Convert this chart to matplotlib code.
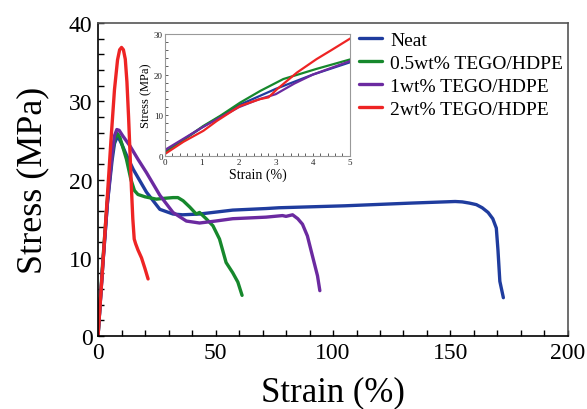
import numpy as np
import matplotlib.pyplot as plt
from matplotlib.ticker import MultipleLocator

plt.rcParams['font.family'] = ['Liberation Serif', 'DejaVu Serif']

# tensile curves, strain (%) vs stress (MPa)
neat_x = [0, 2, 4, 6, 7.0, 7.9, 9, 10, 12, 15, 20.6, 26.3, 31.9, 36, 43.2, 57.3, 71.5, 77, 105, 133.5, 152,
          155, 158, 161, 163.5, 166, 168, 169.5, 170.2, 171, 172.5]
neat_y = [0, 9, 17, 22.5, 24.6, 25.3, 25.2, 24.6, 23.2, 21.3, 18.4, 16.2, 15.6, 15.5, 15.6, 16.1, 16.3, 16.4,
          16.65, 17.0, 17.2, 17.15, 17.0, 16.8, 16.4, 15.8, 15.0, 13.8, 11.0, 7.0, 4.9]

tego05_x = [0, 2, 4, 6, 7.2, 8.2, 9.3, 10.5, 12.1, 14, 15.5, 17, 20, 24.8, 28, 31.9, 34, 36.2, 39, 41.8, 43.2,
            46, 48.9, 51.7, 54.5, 57.3, 59.5, 61.3]
tego05_y = [0, 9.5, 17.5, 23.3, 25.3, 25.9, 25.4, 24.2, 22.6, 20.0, 18.6, 18.1, 17.8, 17.5, 17.6, 17.7, 17.7,
            17.3, 16.5, 15.6, 15.8, 15.0, 14.1, 12.4, 9.4, 8.1, 6.9, 5.2]

tego1_x = [0, 2, 4, 6, 7.0, 8.0, 9, 10.5, 13.6, 17, 20.6, 26.3, 31.9, 37.6, 43.2, 50, 57.3, 71.5, 78.5, 80,
           82.8, 85, 87, 89.1, 91.2, 93.4, 94.4]
tego1_y = [0, 9, 17, 23.3, 25.6, 26.4, 26.3, 25.6, 24.3, 22.6, 20.9, 18, 15.8, 14.7, 14.45, 14.7, 15.0, 15.2,
           15.4, 15.3, 15.5, 15.0, 14.3, 12.8, 10.3, 7.7, 5.8]

tego2_x = [0, 2, 4, 5.5, 7, 8.3, 9.2, 10, 10.8, 11.6, 12.3, 13, 13.6, 14.2, 14.8, 15.4, 16, 17, 18.5, 20, 21.3]
tego2_y = [0, 9, 18, 25, 31.5, 35.3, 36.6, 36.9, 36.6, 35.4, 32.5, 28, 23.5, 19, 15, 12.4, 11.8, 11.0, 10.0,
           8.6, 7.3]

# low-strain region
in_neat_x = [0, 1, 2, 3, 4, 5]
in_neat_y = [1.0, 7.0, 12.5, 16.5, 20.0, 23.0]
in_05_x = [0, 1.04, 1.5, 2.03, 2.58, 3.2, 4.1, 5]
in_05_y = [0.8, 7.4, 9.9, 13.1, 16.0, 18.9, 21.4, 23.7]
in_1_x = [0, 1, 2, 2.5, 3, 3.5, 4, 5]
in_1_y = [1.5, 7.0, 12.0, 13.8, 15.2, 17.8, 20.0, 23.3]
in_2_x = [0, 0.5, 1.04, 1.4, 2.03, 2.58, 2.8, 3.03, 3.57, 4.1, 4.5, 5]
in_2_y = [0.5, 3.5, 6.2, 8.6, 12.3, 14.0, 14.4, 16.4, 20.5, 23.8, 26.0, 28.8]

labels = ['Neat', '0.5wt% TEGO/HDPE', '1wt% TEGO/HDPE', '2wt% TEGO/HDPE']
colors = ['#1f3c9e', '#16882c', '#6b2aa0', '#ee2424']

fig = plt.figure(figsize=(5.87, 4.10), dpi=100)
ax = fig.add_axes([0.167, 0.178, 0.8006, 0.763])

series = [(neat_x, neat_y), (tego05_x, tego05_y), (tego1_x, tego1_y), (tego2_x, tego2_y)]
handles = []
for (x, y), lab, c in zip(series, labels, colors):
    h, = ax.plot(x, y, color=c, lw=2.4, label=lab, solid_capstyle='round', solid_joinstyle='round')
    handles.append(h)

ax.set_xlim(0, 200)
ax.set_ylim(0, 40)
ax.xaxis.set_major_locator(MultipleLocator(50))
ax.xaxis.set_minor_locator(MultipleLocator(10))
ax.yaxis.set_major_locator(MultipleLocator(10))
ax.yaxis.set_minor_locator(MultipleLocator(2))
ax.tick_params(which='both', direction='in', length=4, width=1, top=False, right=False,
               labelsize=17, pad=4)
for s in ['top', 'right']:
    ax.spines[s].set_color('#555555')
for s in ax.spines.values():
    s.set_linewidth(1.2)
ax.set_xlabel('Strain (%)', fontsize=25, labelpad=9)
ax.set_ylabel('Stress (MPa)', fontsize=26, labelpad=14)

fig.legend(handles=handles, loc='upper left', bbox_to_anchor=(0.598, 0.94), frameon=False,
           fontsize=14, handlelength=1.2, handletextpad=0.4, labelspacing=0.28, borderaxespad=0)

# inset with the initial elastic part
ins = fig.add_axes([0.281, 0.617, 0.315, 0.298])
for (x, y), c in zip([(in_neat_x, in_neat_y), (in_05_x, in_05_y), (in_1_x, in_1_y), (in_2_x, in_2_y)], colors):
    ins.plot(x, y, color=c, lw=1.6)
ins.set_xlim(0, 5)
ins.set_ylim(0, 30)
ins.xaxis.set_major_locator(MultipleLocator(1))
ins.xaxis.set_minor_locator(MultipleLocator(0.2))
ins.yaxis.set_major_locator(MultipleLocator(10))
ins.yaxis.set_minor_locator(MultipleLocator(2))
ins.tick_params(which='both', direction='in', length=2, width=0.6, labelsize=6.5, pad=1.5,
                colors='#444444', labelcolor='#222222')
for s in ins.spines.values():
    s.set_color('#999999')
    s.set_linewidth(0.8)
ins.set_xlabel('Strain (%)', fontsize=10, labelpad=1)
ins.set_ylabel('Stress (MPa)', fontsize=9, labelpad=1)

fig.savefig('out.png', dpi=100)
